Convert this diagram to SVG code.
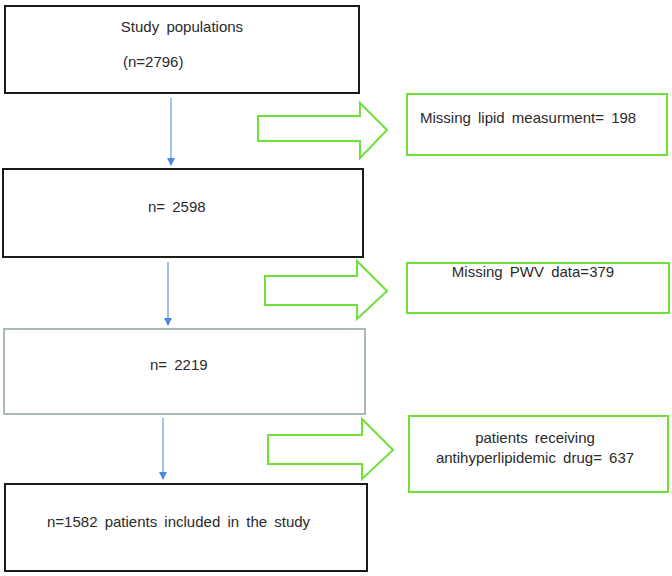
<svg xmlns="http://www.w3.org/2000/svg" width="672" height="576" viewBox="0 0 672 576">
<style>
text{font-family:"Liberation Sans","Open Sans",Arial,sans-serif;font-size:15px;word-spacing:3px;fill:#2a2a2a}
.main{fill:#fff;stroke:#1a1a1a;stroke-width:2}
.gray{fill:#fff;stroke:#a9b8b8;stroke-width:2}
.side{fill:#fff;stroke:#6ee03a;stroke-width:2}
.blk{fill:#fff;stroke:#6ee03a;stroke-width:2;stroke-linejoin:miter}
.conn{stroke:#6a9ef0;stroke-width:1.3;fill:none}
</style>
<defs>
<marker id="ah" markerWidth="8" markerHeight="8" refX="7" refY="4" orient="auto" markerUnits="userSpaceOnUse">
<path d="M0,0 L8,4 L0,8 Z" fill="#4f86e6"/>
</marker>
</defs>
<rect width="672" height="576" fill="#fff"/>
<g id="connectors">
<line class="conn" x1="171" y1="98" x2="171" y2="165" marker-end="url(#ah)"/>
<line class="conn" x1="168" y1="262" x2="168" y2="325" marker-end="url(#ah)"/>
<line class="conn" x1="163" y1="418" x2="163" y2="479" marker-end="url(#ah)"/>
<path class="blk" d="M258,116 H360 V103 L387,130 L360,158 V141 H258 Z"/>
<path class="blk" d="M265,276 H357 V261 L387,291 L357,319 V305 H265 Z"/>
<path class="blk" d="M268,435 H362 V419 L393,450 L362,479 V464 H268 Z"/>
</g>
<g id="n1">
<rect class="main" x="5" y="6" width="354" height="87"/>
<text x="182" y="32" text-anchor="middle">Study populations</text>
<text x="123" y="67">(n=2796)</text>
</g>
<g id="n2">
<rect class="main" x="3" y="169" width="360" height="88"/>
<text x="148" y="212">n= 2598</text>
</g>
<g id="n3">
<rect class="gray" x="4" y="329" width="361" height="85"/>
<text x="150" y="370">n= 2219</text>
</g>
<g id="n4">
<rect class="main" x="5" y="484" width="362" height="87"/>
<text x="47" y="527">n=1582 patients included in the study</text>
</g>
<g id="r1">
<rect class="side" x="407" y="94" width="260" height="61"/>
<text x="420" y="123">Missing lipid measurment= 198</text>
</g>
<g id="r2">
<rect class="side" x="407" y="263" width="262" height="50"/>
<text x="533" y="277" text-anchor="middle">Missing PWV data=379</text>
</g>
<g id="r3">
<rect class="side" x="409" y="416" width="259" height="76"/>
<text x="535" y="443" text-anchor="middle">patients receiving</text>
<text x="535" y="463" text-anchor="middle">antihyperlipidemic  drug= 637</text>
</g>
</svg>
